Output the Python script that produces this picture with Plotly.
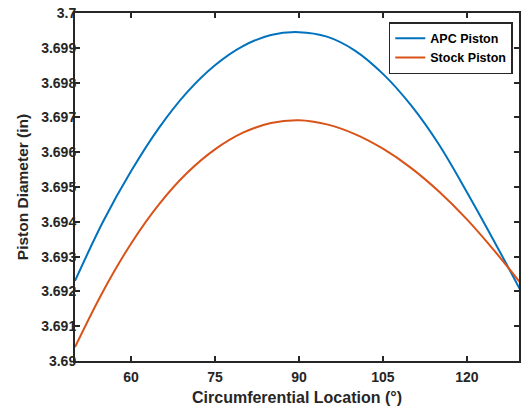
import plotly.graph_objects as go

location_deg = [50, 55, 60, 65, 70, 75, 80, 85, 90, 95, 100, 105, 110, 115, 120, 125, 130]
apc_piston = [3.6923, 3.6940, 3.69545, 3.6967, 3.69772, 3.6985, 3.69905, 3.69937, 3.69945,
              3.69932, 3.69892, 3.69825, 3.69735, 3.69622, 3.69485, 3.6934, 3.6919]
stock_piston = [3.6904, 3.6920, 3.69337, 3.6945, 3.6954, 3.69608, 3.69656, 3.69684, 3.69692,
                3.6968, 3.69652, 3.6961, 3.69555, 3.69487, 3.69407, 3.69315, 3.69215]
x_ticks = [60, 75, 90, 105, 120]
y_ticks = [3.69, 3.691, 3.692, 3.693, 3.694, 3.695, 3.696, 3.697, 3.698, 3.699, 3.7]
y_tick_text = ["3.69", "3.691", "3.692", "3.693", "3.694", "3.695", "3.696", "3.697", "3.698", "3.699", "3.7"]

font = "Liberation Sans, Arial, sans-serif"
axcol = "#262626"

fig = go.Figure()
fig.add_trace(go.Scatter(x=location_deg, y=apc_piston, mode="lines", name="<b>APC Piston</b>",
                         line=dict(color="#0072BD", width=2, shape="spline", smoothing=1.0)))
fig.add_trace(go.Scatter(x=location_deg, y=stock_piston, mode="lines", name="<b>Stock Piston</b>",
                         line=dict(color="#D95319", width=2, shape="spline", smoothing=1.0)))

axis_common = dict(showline=True, linecolor=axcol, linewidth=2, mirror="allticks",
                   ticks="inside", ticklen=5, tickwidth=1.5, tickcolor=axcol,
                   showgrid=False, zeroline=False,
                   tickfont=dict(family=font, size=14, color=axcol))

fig.update_layout(
    width=521, height=407,
    margin=dict(l=75, r=0, t=13, b=46),
    paper_bgcolor="white", plot_bgcolor="white",
    font=dict(family=font, color=axcol),
    xaxis=dict(range=[50, 129.3], tickvals=x_ticks, ticktext=["<b>%d</b>" % t for t in x_ticks],
               ticklabelstandoff=2,
               title=dict(text="<b>Circumferential Location (°)</b>", font=dict(size=16, family=font, color=axcol), standoff=8),
               **axis_common),
    yaxis=dict(range=[3.69, 3.7], tickvals=y_ticks, ticktext=["<b>%s</b>" % t for t in y_tick_text],
               ticklabelstandoff=-6,
               title=dict(text="<b>Piston Diameter (in)</b>", font=dict(size=15.5, family=font, color=axcol), standoff=9),
               **axis_common),
    legend=dict(x=0.986, y=0.974, xanchor="right", yanchor="top",
                bgcolor="white", bordercolor=axcol, borderwidth=1.5,
                font=dict(family=font, size=12.5, color="black"),
                tracegroupgap=0, itemwidth=30),
    showlegend=True,
)

# remove the default page margin so the figure fills the window exactly
fig.write_html("out.html", config={"displayModeBar": False},
               post_script="document.body.style.margin='0';")
